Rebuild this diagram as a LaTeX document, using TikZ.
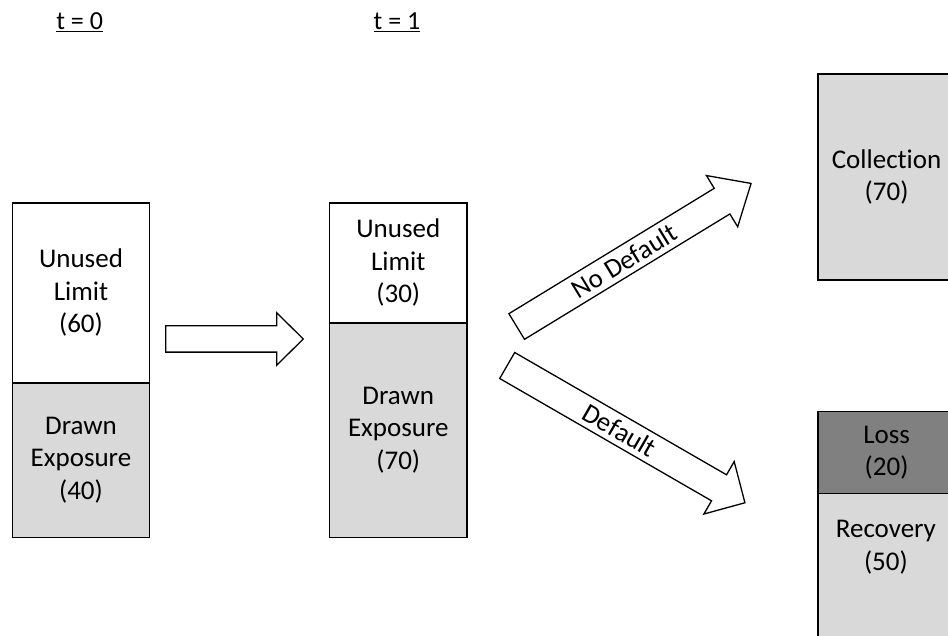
\documentclass[tikz,border=0pt]{standalone}
\usepackage{fontspec}
\setmainfont[Ligatures=NoCommon]{Carlito}
\definecolor{lightfill}{HTML}{D9D9D9}
\definecolor{darkfill}{HTML}{808080}
\begin{document}
\begin{tikzpicture}[x=1pt,y=-1pt,
  bar/.style={draw=black, line width=1.3pt, inner sep=0pt, anchor=north west,
    minimum width=137.3pt, align=center, font=\fontsize{27}{32.5}\selectfont},
  lbl/.style={align=center, font=\fontsize{27}{32.5}\selectfont, inner sep=0pt},
  toplbl/.style={font=\fontsize{26}{30}\selectfont, inner sep=0pt},
  blockarrow/.style={draw=black, line width=1.3pt, fill=white, line join=miter}
]
\useasboundingbox (0,0) rectangle (948,636);

% top labels
\node[toplbl] (t0) at (79.7,22) {\underline{t = 0}};
\node[toplbl] (t1) at (397,22) {\underline{t = 1}};

% t = 0 bar
\node[bar, fill=white, minimum height=180pt] (u0) at (11.7,202.3) {Unused\\Limit\\(60)};
\node[bar, fill=lightfill, minimum height=154.4pt] (d0) at (11.7,382.3) {Drawn\\Exposure\\(40)};

% t = 1 bar
\node[bar, fill=white, minimum height=120pt] (u1) at (329,202.3) {Unused\\Limit\\(30)};
\node[bar, fill=lightfill, minimum height=214.4pt] (d1) at (329,322.3) {Drawn\\Exposure\\(70)};

% right boxes
\node[bar, fill=lightfill, minimum height=206pt] (col) at (817.3,73.3) {Collection\\(70)};
\node[bar, fill=darkfill, minimum height=81.7pt] (loss) at (817.3,411) {Loss\\(20)};
\node[bar, fill=lightfill, minimum height=170pt] (rec) at (817.3,492.7) {};
\node[lbl] (rectxt) at (885.9,547) {Recovery\\(50)};

% horizontal block arrow
\coordinate (h0) at (165.7,339);
\begin{scope}[shift={(h0)}]
  \draw[blockarrow] (0,-13.15) -- (111,-13.15) -- (111,-26.2) -- (137.6,0)
    -- (111,26.2) -- (111,13.15) -- (0,13.15) -- cycle;
\end{scope}

% No Default arrow
\coordinate (a0) at (516.7,326.5);
\begin{scope}[shift={(a0)}, rotate=31.4]
  \draw[blockarrow] (0,-15) -- (240.6,-15) -- (240.6,-30) -- (274.6,0)
    -- (240.6,30) -- (240.6,15) -- (0,15) -- cycle;
  \node[lbl, rotate=31.4] (nd) at (126,0) {No Default};
\end{scope}

% Default arrow
\coordinate (b0) at (507.2,365.5);
\begin{scope}[shift={(b0)}, rotate=-30]
  \draw[blockarrow] (0,-15) -- (244.6,-15) -- (244.6,-30.3) -- (274.5,0)
    -- (244.6,30.3) -- (244.6,15) -- (0,15) -- cycle;
  \node[lbl, rotate=-30] (df) at (130,0) {Default};
\end{scope}
\end{tikzpicture}
\end{document}
